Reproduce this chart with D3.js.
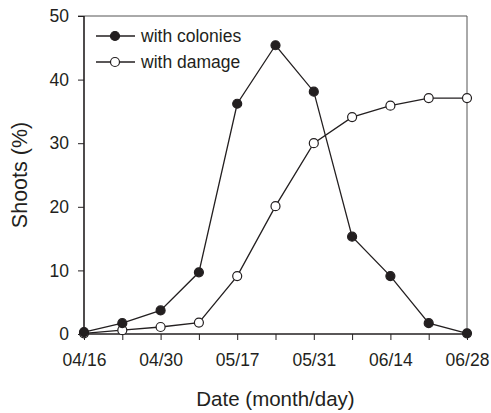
<!DOCTYPE html>
<html>
<head>
<meta charset="utf-8">
<script src="https://cdn.jsdelivr.net/npm/d3@7"></script>
<style>
    body { margin: 0; background: #fff; }
    svg text { font-family: "Liberation Sans", Arial, sans-serif; fill: #231f20; }
</style>
</head>
<body>
<svg width="491" height="413"></svg>
<script>
// sampling dates (index along x), labels only on every other tick
var dates = ["04/16", "", "04/30", "", "05/17", "", "05/31", "", "06/14", "", "06/28"];
var colonies = [0.3, 1.7, 3.7, 9.7, 36.2, 45.4, 38.1, 15.3, 9.1, 1.7, 0.1];
var damage = [0.1, 0.6, 1.1, 1.8, 9.1, 20.1, 30.0, 34.1, 35.9, 37.1, 37.1];
var yTicks = [0, 10, 20, 30, 40, 50];

var svg = d3.select("svg"),
    margin = { left: 84, right: 24, top: 16, bottom: 79 },
    width = +svg.attr("width") - margin.left - margin.right,
    height = +svg.attr("height") - margin.top - margin.bottom;

var x = d3.scaleLinear().domain([0, dates.length - 1]).range([0, width]);
var y = d3.scaleLinear().domain([0, 50]).range([height, 0]);

var g = svg.append("g")
    .attr("transform", "translate(" + margin.left + "," + margin.top + ")");

// frame top / right
g.append("line").attr("x1", -6).attr("x2", width).attr("y1", 0).attr("y2", 0)
    .attr("stroke", "#555").attr("stroke-width", 1);
g.append("line").attr("x1", width).attr("x2", width).attr("y1", 0).attr("y2", height)
    .attr("stroke", "#555").attr("stroke-width", 1);

var yAxis = g.append("g")
    .call(d3.axisLeft(y).tickValues(yTicks).tickSize(6).tickPadding(9));
var xAxis = g.append("g")
    .attr("transform", "translate(0," + height + ")")
    .call(d3.axisBottom(x).tickValues(d3.range(dates.length)).tickSize(6).tickPadding(14)
        .tickFormat(function (i) { return dates[i]; }));

[yAxis, xAxis].forEach(function (a) {
    a.select(".domain").attr("stroke", "#231f20").attr("stroke-width", 1.6);
    a.selectAll(".tick line").attr("stroke", "#231f20").attr("stroke-width", 1);
    a.selectAll(".tick text").attr("font-size", 17.5).attr("fill", "#231f20");
});
yAxis.select(".domain").attr("d", "M0," + height + "V0");
xAxis.select(".domain").attr("d", "M0,0H" + width);

var line = d3.line()
    .x(function (d, i) { return x(i); })
    .y(function (d) { return y(d); });

function drawSeries(values, fill) {
    g.append("path").datum(values)
        .attr("d", line)
        .attr("fill", "none")
        .attr("stroke", "#231f20")
        .attr("stroke-width", 1.3);
    g.selectAll(null).data(values).enter().append("circle")
        .attr("cx", function (d, i) { return x(i); })
        .attr("cy", function (d) { return y(d); })
        .attr("r", 4.5)
        .attr("fill", fill)
        .attr("stroke", "#231f20")
        .attr("stroke-width", 1.2);
}

drawSeries(damage, "#fff");
drawSeries(colonies, "#231f20");

// legend
var legend = [
    { name: "with colonies", fill: "#231f20" },
    { name: "with damage", fill: "#fff" }
];
var lg = svg.append("g").attr("transform", "translate(96,36)")
    .selectAll("g").data(legend).enter().append("g")
    .attr("transform", function (d, i) { return "translate(0," + i * 26 + ")"; });
lg.append("line").attr("x1", 0).attr("x2", 39).attr("y1", 0).attr("y2", 0)
    .attr("stroke", "#231f20").attr("stroke-width", 1.3);
lg.append("circle").attr("cx", 19).attr("cy", 0).attr("r", 4.5)
    .attr("fill", function (d) { return d.fill; })
    .attr("stroke", "#231f20").attr("stroke-width", 1.2);
lg.append("text").attr("x", 45).attr("dy", "0.35em").attr("font-size", 17.5)
    .text(function (d) { return d.name; });

// axis titles
svg.append("text")
    .attr("transform", "translate(27," + (margin.top + height / 2) + ") rotate(-90)")
    .attr("text-anchor", "middle").attr("font-size", 21.5)
    .text("Shoots (%)");
svg.append("text")
    .attr("x", margin.left + width / 2).attr("y", 406)
    .attr("text-anchor", "middle").attr("font-size", 20.5)
    .text("Date (month/day)");
</script>
</body>
</html>
